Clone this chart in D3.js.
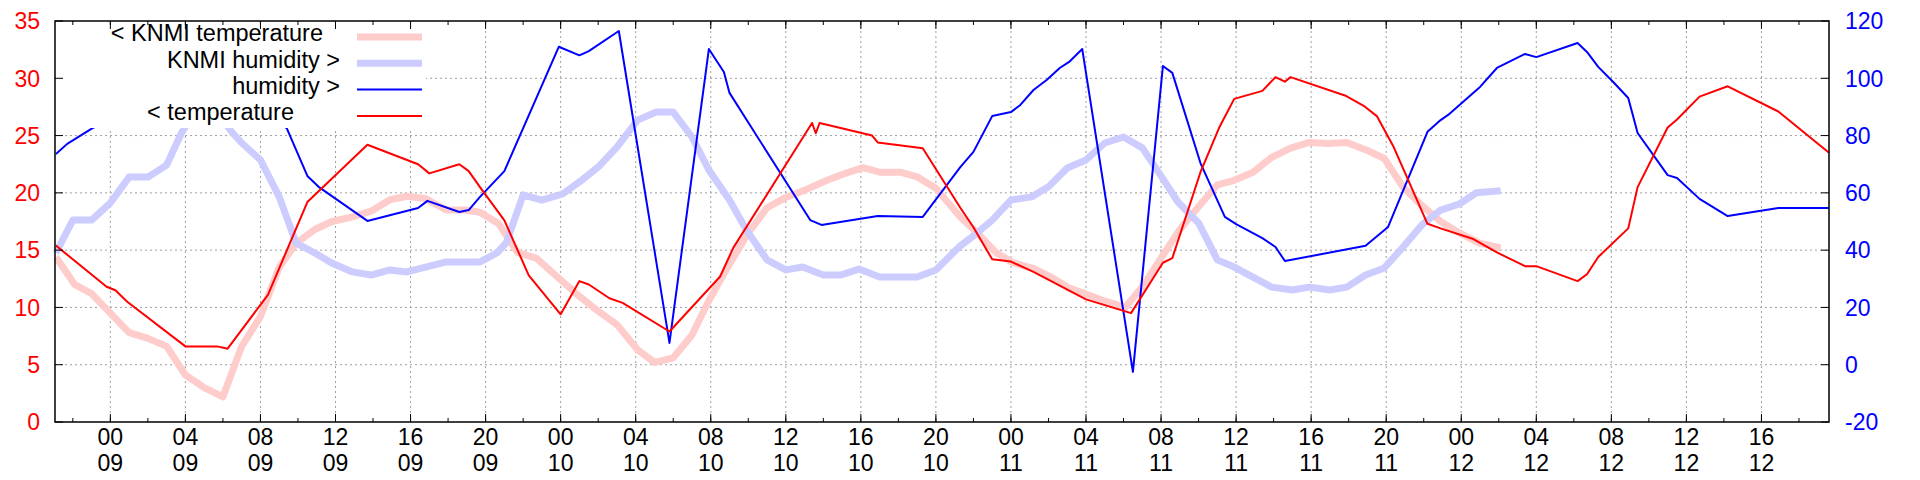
<!DOCTYPE html>
<html><head><meta charset="utf-8">
<script src="https://cdn.jsdelivr.net/npm/d3@7"></script>
<style>body{margin:0;background:#fff}svg{display:block;font-family:"Liberation Sans",Arial,sans-serif}</style>
</head><body><svg id="c" width="1920" height="480"></svg>
<script>
// hours relative to 00:00 on day 09
const temperature = [[-2.9,15.4],[-0.2,11.8],[0.27,11.5],[0.9,10.5],[4.0,6.6],[5.7,6.6],[6.25,6.4],[8.4,11.1],[10.5,19.2],[13.7,24.2],[16.4,22.5],[17.0,21.7],[18.6,22.5],[19.1,21.9],[19.7,20.5],[21.0,17.6],[22.3,12.8],[24.0,9.4],[25.0,12.3],[25.5,12.0],[26.6,10.8],[27.3,10.4],[29.8,7.9],[32.5,12.7],[33.2,15.2],[37.4,26.1],[37.6,25.2],[37.8,26.1],[40.6,25.0],[40.9,24.4],[43.3,23.9],[45.3,18.7],[46.0,17.0],[47.0,14.2],[48.0,14.0],[49.2,13.1],[52.0,10.7],[54.4,9.5],[56.1,13.9],[56.6,14.3],[58.1,21.8],[59.1,25.7],[59.9,28.2],[61.4,28.9],[62.1,30.1],[62.6,29.7],[62.9,30.1],[65.8,28.5],[66.8,27.6],[67.5,26.7],[68.4,24.0],[70.2,17.3],[70.9,16.9],[72.6,16.0],[73.9,14.8],[75.4,13.6],[76.0,13.6],[78.2,12.3],[78.7,12.9],[79.3,14.4],[80.9,16.9],[81.4,20.5],[83.0,25.7],[83.5,26.4],[84.7,28.4],[86.2,29.3],[88.9,27.1],[91.6,23.5]];
const humidity = [[-2.9,73.6],[-2.3,77.1],[-0.95,82.6],[1,88],[4,95],[7,92],[9.4,82.6],[10.5,65.9],[11.1,62.1],[13.7,50.2],[16.4,54.7],[16.9,57.2],[18.6,53.3],[19.1,54.0],[19.7,58.6],[21.0,67.6],[23.9,111],[25.0,108],[25.5,109.5],[27.1,116.5],[29.8,7.6],[31.9,110.2],[32.7,102.2],[33.0,94.9],[37.3,50.5],[37.9,48.8],[40.9,51.9],[43.3,51.6],[45.3,69.0],[46.0,74.3],[47.0,86.8],[48.0,88.2],[48.5,90.7],[49.2,95.9],[49.9,99.4],[50.6,103.6],[51.1,105.7],[51.8,110.2],[54.5,-2.5],[56.1,104.3],[56.6,101.9],[58.1,70.4],[59.4,51.6],[60.0,49.1],[61.4,44.2],[62.1,41.1],[62.6,36.2],[66.9,41.5],[68.1,48.1],[70.2,81.3],[70.9,85.4],[71.3,87.2],[73.0,97.0],[73.9,103.6],[75.4,108.5],[76.0,107.4],[78.2,112.3],[78.7,109.2],[79.3,104.0],[80.1,98.7],[80.9,93.1],[81.4,80.9],[83.0,66.2],[83.5,65.2],[84.7,57.9],[86.2,51.9],[88.9,54.7],[91.6,54.7]];
const knmiTemperature = [[-2.9,14.4],[-1.9,12.0],[-1.0,11.2],[0,9.5],[1,7.8],[2,7.3],[3,6.6],[4,4.1],[5,3.0],[6,2.2],[7,6.6],[8,9.2],[9,13.5],[9.9,15.6],[10.9,16.8],[11.8,17.5],[12.9,17.9],[13.9,18.4],[14.9,19.4],[15.8,19.7],[16.8,19.5],[17.9,18.5],[18.9,18.5],[19.7,18.3],[20.7,17.3],[21.7,14.8],[22.7,14.3],[23.8,12.7],[24.9,11.1],[25.9,9.8],[27.0,8.5],[28.1,6.3],[29.0,5.2],[30.0,5.6],[31.0,7.6],[31.9,10.6],[32.9,13.5],[34.0,16.5],[35.0,18.7],[36.0,19.6],[37.1,20.3],[38.2,21.1],[39.0,21.6],[40.1,22.2],[41.0,21.8],[42.1,21.8],[43.0,21.4],[44.0,20.4],[45.3,17.9],[46.2,16.5],[47.2,14.8],[48.1,13.9],[49.2,13.4],[50.2,12.6],[51.1,11.7],[52.1,11.1],[53.1,10.5],[54.1,10.0],[55.0,11.8],[56.0,14.3],[57.0,16.8],[58.0,18.8],[59.0,20.7],[59.9,21.1],[60.9,21.8],[61.9,23.1],[62.9,23.9],[63.9,24.4],[64.9,24.3],[65.9,24.4],[67.0,23.7],[67.9,23.0],[68.9,20.5],[69.9,18.9],[70.9,17.5],[71.9,16.5],[73.0,15.6],[74.1,15.2]];
const knmiHumidity = [[-2.9,39],[-2.0,50.5],[-1.0,50.5],[0,56.5],[1,65.5],[2,65.5],[3,69.7],[3.8,81],[4.5,88],[5.5,90],[6.5,81],[7,77.4],[8,71.5],[9,58.6],[9.9,42.5],[10.9,39],[11.8,35.5],[12.9,32.4],[13.9,31.3],[14.9,33.1],[15.8,32.4],[16.8,34.1],[17.9,35.9],[19.7,35.9],[20.6,39],[21.1,42.5],[22.0,59.3],[23.0,57.5],[24.1,59.6],[25.0,63.8],[26.0,69],[27.0,76],[28.1,85.4],[29.1,88.2],[30.0,88.2],[31.0,79.5],[31.9,68],[33.0,57.5],[33.9,47.0],[35.0,36.6],[36.0,33.1],[36.9,34.1],[38.0,31.3],[38.9,31.3],[39.9,33.4],[41.0,30.6],[43.0,30.6],[44.0,33.1],[45.3,41.5],[46.2,46],[47.0,50.5],[48.0,57.5],[49.1,58.6],[50.0,62.1],[51.0,68.7],[52.0,71.5],[53.0,77.4],[54.0,79.5],[55.0,75.7],[55.9,66.9],[56.9,56.8],[58.0,49.5],[59.0,36.6],[59.9,34.1],[60.9,30.6],[61.9,27.1],[63.0,26.1],[63.9,27.1],[65.0,26.1],[65.9,27.1],[66.9,31.3],[67.9,33.8],[68.9,41.1],[69.9,48.8],[70.9,54],[71.9,56.1],[72.8,60],[74.1,60.7]];
const tempTicks = [0,5,10,15,20,25,30,35];
const humTicks = [-20,0,20,40,60,80,100,120];
const majorHours = d3.range(0,92,4);
const minorHours = d3.range(-2,92,2);
const legendItems = [["< KNMI temperature","#ffcccc",7,323],["KNMI humidity >","#ccccff",7,340],["humidity >","#0000ff",2,340],["< temperature","#ff0000",2,294]];

const L=55,R=1829,T=21,B=422;
const svg=d3.select("#c");
const x=d3.scaleLinear().domain([-2.95,91.6]).range([L,R]);
const yT=d3.scaleLinear().domain([0,35]).range([B,T]);
const yH=d3.scaleLinear().domain([-20,120]).range([B,T]);
const grid=svg.append("g").attr("stroke","#a0a0a0").attr("stroke-dasharray","2,3").attr("stroke-width",1);
majorHours.forEach(h=>grid.append("line").attr("x1",x(h)).attr("x2",x(h)).attr("y1",T).attr("y2",B));
tempTicks.slice(1,-1).forEach(v=>grid.append("line").attr("x1",L).attr("x2",R).attr("y1",yT(v)).attr("y2",yT(v)));

const line=(ys)=>d3.line().x(d=>x(d[0])).y(d=>ys(d[1]));
const plot=(data,ys,c,w)=>svg.append("path").datum(data).attr("d",line(ys)).attr("fill","none").attr("stroke",c).attr("stroke-width",w).attr("stroke-linejoin","round");
plot(knmiTemperature,yT,"#ffcccc",7);
plot(knmiHumidity,yH,"#ccccff",7);
plot(humidity,yH,"#0000ff",2);
plot(temperature,yT,"#ff0000",2);

// legend box
svg.append("rect").attr("x",L+1).attr("y",T+1).attr("width",370).attr("height",106).attr("fill","#fff");
legendItems.forEach((it,i)=>{
  const yy=33+i*26.3;
  svg.append("text").attr("x",it[3]).attr("y",yy).attr("dy","0.36em").attr("text-anchor","end").attr("font-size",23.5).attr("fill","#000").text(it[0]);
  svg.append("line").attr("x1",357).attr("x2",422).attr("y1",yy+4).attr("y2",yy+4).attr("stroke",it[1]).attr("stroke-width",it[2]);
});

// frame and ticks
svg.append("rect").attr("x",L).attr("y",T).attr("width",R-L).attr("height",B-T).attr("fill","none").attr("stroke","#000").attr("stroke-width",1.5);
const tk=svg.append("g").attr("stroke","#000").attr("stroke-width",1);
majorHours.forEach(h=>{tk.append("line").attr("x1",x(h)).attr("x2",x(h)).attr("y1",B).attr("y2",B-8);tk.append("line").attr("x1",x(h)).attr("x2",x(h)).attr("y1",T).attr("y2",T+8);});
minorHours.forEach(h=>{tk.append("line").attr("x1",x(h)).attr("x2",x(h)).attr("y1",B).attr("y2",B-4);tk.append("line").attr("x1",x(h)).attr("x2",x(h)).attr("y1",T).attr("y2",T+4);});
tempTicks.forEach(v=>tk.append("line").attr("x1",L).attr("x2",L+8).attr("y1",yT(v)).attr("y2",yT(v)));
humTicks.forEach(v=>tk.append("line").attr("x1",R).attr("x2",R-8).attr("y1",yH(v)).attr("y2",yH(v)));

const fs=23;
tempTicks.forEach(v=>svg.append("text").attr("x",40).attr("y",yT(v)).attr("dy","0.36em").attr("text-anchor","end").attr("font-size",fs).attr("fill","#ff0000").text(v));
humTicks.forEach(v=>svg.append("text").attr("x",1845).attr("y",yH(v)).attr("dy","0.36em").attr("text-anchor","start").attr("font-size",fs).attr("fill","#0000ff").text(v));
majorHours.forEach(h=>{
  const hh=String(h%24).padStart(2,"0"), dd=String(9+Math.floor(h/24)).padStart(2,"0");
  svg.append("text").attr("x",x(h)).attr("y",437).attr("dy","0.36em").attr("text-anchor","middle").attr("font-size",fs).text(hh);
  svg.append("text").attr("x",x(h)).attr("y",463).attr("dy","0.36em").attr("text-anchor","middle").attr("font-size",fs).text(dd);
});
</script></body></html>
